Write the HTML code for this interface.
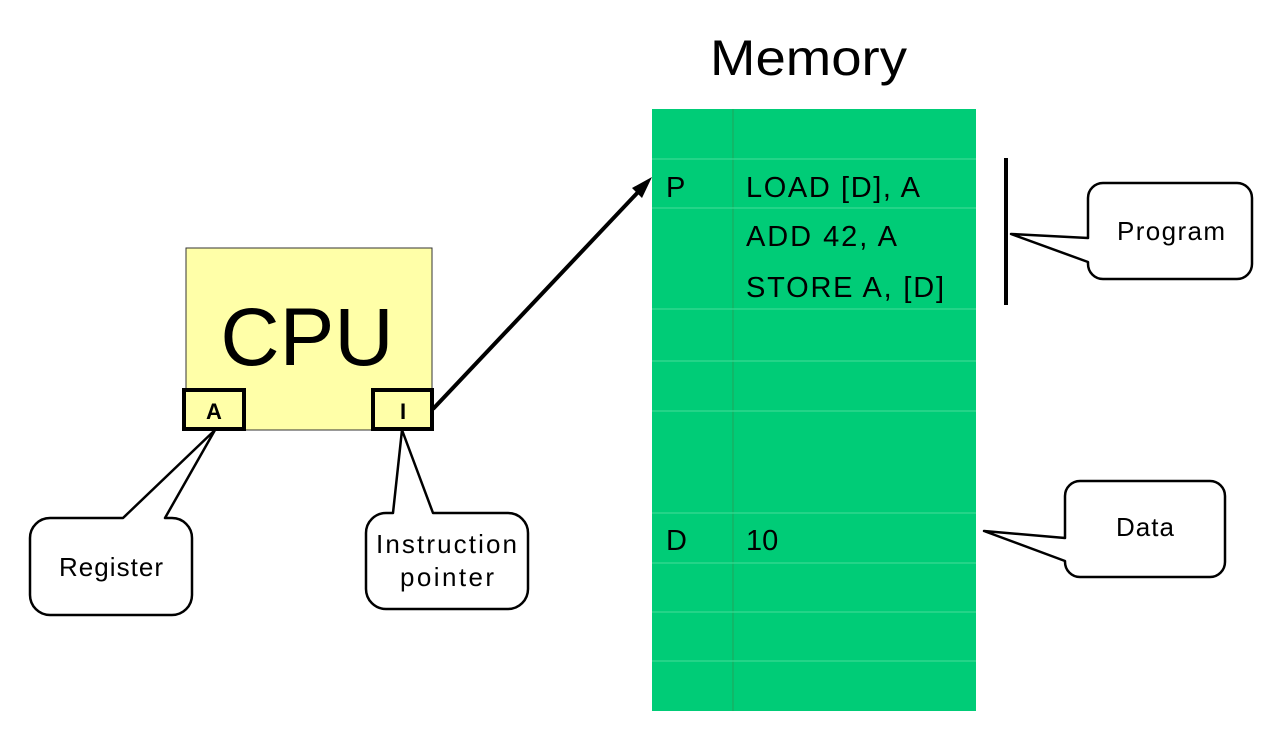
<!DOCTYPE html>
<html><head><meta charset="utf-8"><style>body{margin:0;background:#fff}svg{display:block}</style></head><body>
<svg width="1282" height="740" viewBox="0 0 1282 740" xmlns="http://www.w3.org/2000/svg" font-family="Liberation Sans, sans-serif">
<text x="710" y="75" font-size="50" textLength="197" lengthAdjust="spacingAndGlyphs" fill="#000">Memory</text>
<rect x="652" y="109" width="324" height="602" fill="#00cc77"/>
<g stroke="#3ad892" stroke-width="1.2">
<line x1="733" y1="109" x2="733" y2="711" stroke="#1aaa60"/>
<line x1="652" y1="159" x2="976" y2="159"/>
<line x1="652" y1="208" x2="976" y2="208"/>
<line x1="652" y1="309" x2="976" y2="309"/>
<line x1="652" y1="361" x2="976" y2="361"/>
<line x1="652" y1="411" x2="976" y2="411"/>
<line x1="652" y1="513" x2="976" y2="513"/>
<line x1="652" y1="563" x2="976" y2="563"/>
<line x1="652" y1="612" x2="976" y2="612"/>
<line x1="652" y1="661" x2="976" y2="661"/>
</g>
<g font-size="29" fill="#000" lengthAdjust="spacingAndGlyphs">
<text x="666" y="197">P</text>
<text x="746" y="197" textLength="174">LOAD [D], A</text>
<text x="746" y="246" textLength="151">ADD 42, A</text>
<text x="746" y="297" textLength="198">STORE A, [D]</text>
<text x="666" y="550">D</text>
<text x="746" y="550">10</text>
</g>
<rect x="186" y="248" width="246" height="182" fill="#ffffa8" stroke="#333" stroke-width="1"/>
<text x="307" y="365" font-size="82" text-anchor="middle">CPU</text>
<rect x="184" y="390" width="60" height="39" fill="#ffffa8" stroke="#000" stroke-width="4"/>
<text x="214" y="419" font-size="22" font-weight="bold" text-anchor="middle">A</text>
<rect x="373" y="390" width="59" height="39" fill="#ffffa8" stroke="#000" stroke-width="4"/>
<text x="403" y="419" font-size="22" font-weight="bold" text-anchor="middle">I</text>
<line x1="433" y1="409" x2="640" y2="190" stroke="#000" stroke-width="4"/>
<polygon points="652,177 632,188 642,198" fill="#000"/>
<line x1="1006" y1="158" x2="1006" y2="305" stroke="#000" stroke-width="4"/>
<g fill="#fff" stroke="#000" stroke-width="2.5" stroke-linejoin="round">
<path d="M123,518 L215,430 L165,518 L172,518 A20 20 0 0 1 192,538 L192,595 A20 20 0 0 1 172,615 L50,615 A20 20 0 0 1 30,595 L30,538 A20 20 0 0 1 50,518 Z"/>
<path d="M393,513 L402,430 L433,513 L508,513 A20 20 0 0 1 528,533 L528,589 A20 20 0 0 1 508,609 L386,609 A20 20 0 0 1 366,589 L366,533 A20 20 0 0 1 386,513 Z"/>
<path d="M1088,238 L1011,234 L1088,262 L1088,264 A15 15 0 0 0 1103,279 L1237,279 A15 15 0 0 0 1252,264 L1252,198 A15 15 0 0 0 1237,183 L1103,183 A15 15 0 0 0 1088,198 Z"/>
<path d="M1065,538 L984,531 L1065,561 L1065,562 A15 15 0 0 0 1080,577 L1210,577 A15 15 0 0 0 1225,562 L1225,496 A15 15 0 0 0 1210,481 L1080,481 A15 15 0 0 0 1065,496 Z"/>
</g>
<g font-size="26" fill="#000" lengthAdjust="spacingAndGlyphs">
<text x="59" y="576" textLength="104">Register</text>
<text x="376" y="553" textLength="141">Instruction</text>
<text x="400" y="586" textLength="94">pointer</text>
<text x="1117" y="240" textLength="108">Program</text>
<text x="1116" y="536" textLength="58">Data</text>
</g>
</svg>
</body></html>
